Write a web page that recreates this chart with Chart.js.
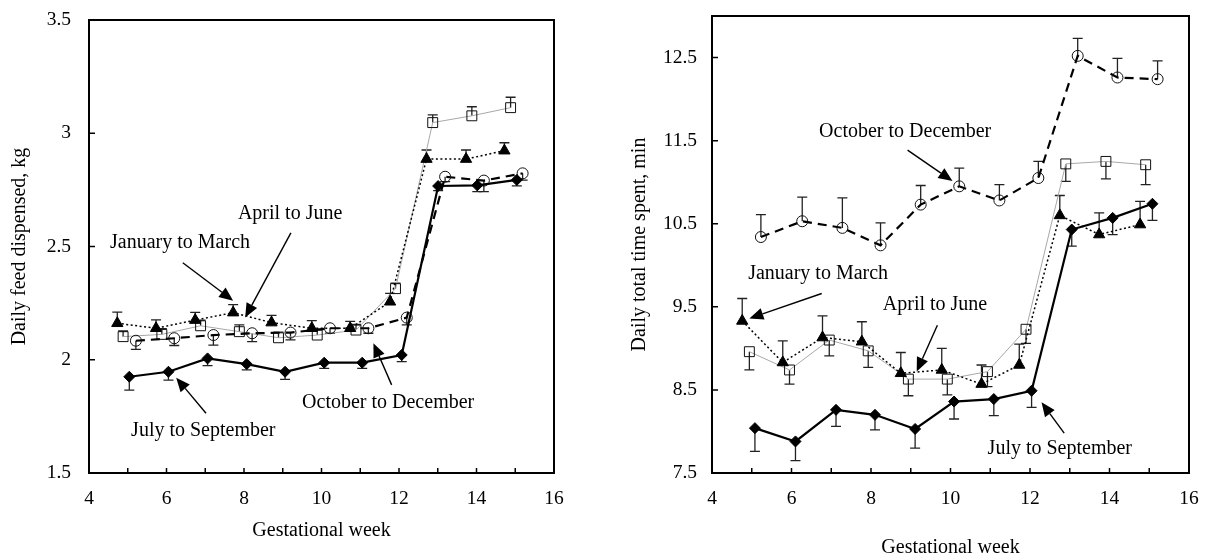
<!DOCTYPE html>
<html><head><meta charset="utf-8">
<script src="https://cdn.jsdelivr.net/npm/chart.js@4.4.1/dist/chart.umd.min.js"></script>
<style>
html,body{margin:0;padding:0;background:#fff;width:1206px;height:560px;overflow:hidden}
#w1{position:absolute;left:0;top:0;width:600px;height:560px}
#w2{position:absolute;left:600px;top:0;width:606px;height:560px}
</style></head><body>
<div id="w1"><canvas id="c1" width="600" height="560"></canvas></div>
<div id="w2"><canvas id="c2" width="606" height="560"></canvas></div>
<script>
// ---------- shared axis data ----------
const weekTicks  = [4,5,6,7,8,9,10,11,12,13,14,15,16];
const weekLabels = ['4','','6','','8','','10','','12','','14','','16'];

// ---------- left chart: daily feed dispensed (kg) ----------
const feedYTicks  = [1.5,2,2.5,3,3.5];
const feedYLabels = ['1.5','2','2.5','3','3.5'];

const feedJanMarX = [4.73,5.73,6.74,7.72,8.71,9.75,10.74,11.77,12.71,13.73,14.72];
const feedJanMarY = [2.161,2.139,2.175,2.208,2.164,2.139,2.139,2.256,2.886,2.886,2.923];
const feedJanMarE = [0.049,0.037,0.034,0.035,0.032,0.034,0.030,0.037,0.040,0.040,0.035];

const feedAprJunX = [4.88,5.88,6.88,7.88,8.89,9.89,10.89,11.91,12.87,13.88,14.88];
const feedAprJunY = [2.102,2.112,2.150,2.124,2.097,2.109,2.131,2.314,3.047,3.077,3.113];
const feedAprJunE = [0.025,0.025,0.025,0.030,0.025,0.025,0.025,0.024,0.034,0.040,0.046];

const feedOctDecX = [5.21,6.20,7.21,8.21,9.20,10.22,11.21,12.20,13.19,14.19,15.19];
const feedOctDecY = [2.084,2.095,2.109,2.117,2.120,2.139,2.139,2.186,2.808,2.791,2.823];
const feedOctDecE = [0.038,0.032,0.044,0.037,0.032,0.022,0.022,0.032,0.022,0.049,0.030];

const feedJulSepX = [5.04,6.05,7.06,8.07,9.06,10.07,11.05,12.07,13.01,14.02,15.04];
const feedJulSepY = [1.925,1.947,2.006,1.981,1.947,1.987,1.987,2.021,2.767,2.770,2.794];
const feedJulSepE = [0.059,0.037,0.032,0.026,0.034,0.025,0.025,0.029,0.020,0.028,0.026];

const feedNotes = [
  {text:'January to March',   tx:6.35,  ty:2.515, x1:6.42,  y1:2.428, x2:7.72,  y2:2.261},
  {text:'April to June',      tx:9.19,  ty:2.643, x1:9.21,  y1:2.560, x2:8.03,  y2:2.187},
  {text:'July to September',  tx:6.95,  ty:1.685, x1:7.02,  y1:1.764, x2:6.25,  y2:1.921},
  {text:'October to December',tx:11.72, ty:1.809, x1:11.81, y1:1.889, x2:11.34, y2:2.073}
];

// ---------- right chart: daily total time spent (min) ----------
const timeYTicks  = [7.5,8.5,9.5,10.5,11.5,12.5];
const timeYLabels = ['7.5','8.5','9.5','10.5','11.5','12.5'];

const timeOctDecX = [5.23,6.27,7.28,8.24,9.25,10.22,11.23,12.21,13.20,14.20,15.21];
const timeOctDecY = [10.34,10.53,10.45,10.24,10.73,10.95,10.78,11.05,12.52,12.26,12.24];
const timeOctDecE = [0.27,0.29,0.36,0.27,0.23,0.22,0.19,0.20,0.21,0.23,0.22];

const timeJanMarX = [4.76,5.78,6.78,7.77,8.75,9.78,10.78,11.73,12.75,13.74,14.77];
const timeJanMarY = [9.33,8.83,9.13,9.08,8.70,8.74,8.57,8.80,10.60,10.37,10.49];
const timeJanMarE = [0.27,0.26,0.26,0.24,0.25,0.26,0.23,0.25,0.24,0.26,0.28];

const timeAprJunX = [4.94,5.95,6.95,7.93,8.94,9.92,10.93,11.90,12.90,13.91,14.91];
const timeAprJunY = [8.96,8.74,9.10,8.97,8.63,8.63,8.72,9.23,11.22,11.25,11.21];
const timeAprJunE = [0.22,0.17,0.19,0.20,0.20,0.19,0.18,0.17,0.21,0.21,0.24];

const timeJulSepX = [5.08,6.10,7.12,8.10,9.11,10.09,11.09,12.04,13.05,14.08,15.08];
const timeJulSepY = [8.04,7.88,8.26,8.20,8.03,8.36,8.39,8.49,10.43,10.57,10.74];
const timeJulSepE = [0.28,0.23,0.20,0.18,0.23,0.21,0.20,0.20,0.20,0.20,0.20];

const timeNotes = [
  {text:'October to December',tx:8.86,  ty:11.61, x1:8.92,  y1:11.386, x2:10.05, y2:11.013},
  {text:'January to March',   tx:6.67,  ty:9.892, x1:6.76,  y1:9.66,   x2:4.94,  y2:9.36},
  {text:'April to June',      tx:9.61,  ty:9.519, x1:9.67,  y1:9.279,  x2:9.15,  y2:8.722},
  {text:'July to September',  tx:12.75, ty:7.788, x1:12.86, y1:7.98,   x2:12.29, y2:8.35}
];

// ---------- helpers ----------
const SERIF = '"Liberation Serif", "Times New Roman", serif';
Chart.defaults.font.family = SERIF;
Chart.defaults.color = '#000';

function pts(xs, ys){ return xs.map((x,i)=>({x:x, y:ys[i]})); }

function styleJanMar(xs,ys,es,dir){ return {label:'January to March', data:pts(xs,ys), errors:es, errDir:dir,
  borderColor:'#000', borderWidth:1.5, borderDash:[2,2.5], pointStyle:'triangle', pointRadius:6.5,
  pointBackgroundColor:'#000', pointBorderColor:'#000', pointBorderWidth:1, order:2}; }
function styleAprJun(xs,ys,es,dir){ return {label:'April to June', data:pts(xs,ys), errors:es, errDir:dir,
  borderColor:'#a8a8a8', borderWidth:1, pointStyle:'rect', pointRadius:7,
  pointBackgroundColor:'rgba(255,255,255,0)', pointBorderColor:'#111', pointBorderWidth:1, order:3}; }
function styleOctDec(xs,ys,es,dir){ return {label:'October to December', data:pts(xs,ys), errors:es, errDir:dir,
  borderColor:'#000', borderWidth:2.2, borderDash:[9,6], pointStyle:'circle', pointRadius:5.5,
  pointBackgroundColor:'rgba(255,255,255,0)', pointBorderColor:'#111', pointBorderWidth:1, order:1}; }
function styleJulSep(xs,ys,es,dir){ return {label:'July to September', data:pts(xs,ys), errors:es, errDir:dir,
  borderColor:'#000', borderWidth:2.2, pointStyle:'rectRot', pointRadius:5.5,
  pointBackgroundColor:'#000', pointBorderColor:'#000', pointBorderWidth:1, order:0}; }

const decorPlugin = {
  id:'decor',
  beforeDatasetsDraw(chart){
    const {ctx, scales:{x,y}} = chart;
    ctx.save();
    ctx.strokeStyle = '#222'; ctx.lineWidth = 1.3; ctx.setLineDash([]);
    chart.data.datasets.forEach(ds=>{
      ds.data.forEach((p,j)=>{
        const px = x.getPixelForValue(p.x);
        const py0 = y.getPixelForValue(p.y);
        const py1 = y.getPixelForValue(p.y + ds.errDir*ds.errors[j]);
        ctx.beginPath();
        ctx.moveTo(px,py0); ctx.lineTo(px,py1);
        ctx.moveTo(px-5,py1); ctx.lineTo(px+5,py1);
        ctx.stroke();
      });
    });
    ctx.restore();
  },
  afterDraw(chart){
    const {ctx, chartArea:a, scales:{x,y}} = chart;
    const notes = chart.options.plugins.decor.notes;
    ctx.save();
    ctx.setLineDash([]);
    // frame
    ctx.strokeStyle = '#000'; ctx.lineWidth = 2;
    ctx.strokeRect(a.left, a.top, a.right-a.left, a.bottom-a.top);
    // inward tick marks
    ctx.lineWidth = 1.5;
    ctx.beginPath();
    x.ticks.forEach(t=>{
      if (t.value<=x.min || t.value>=x.max) return;
      const px = x.getPixelForValue(t.value);
      ctx.moveTo(px,a.bottom); ctx.lineTo(px,a.bottom-5);
    });
    y.ticks.forEach(t=>{
      if (t.value<=y.min || t.value>=y.max) return;
      const py = y.getPixelForValue(t.value);
      ctx.moveTo(a.left,py); ctx.lineTo(a.left+6,py);
    });
    ctx.stroke();
    // annotations
    ctx.fillStyle = '#000';
    ctx.font = '20px ' + SERIF;
    ctx.textAlign = 'center'; ctx.textBaseline = 'middle';
    notes.forEach(n=>{
      ctx.fillText(n.text, x.getPixelForValue(n.tx), y.getPixelForValue(n.ty));
      const x1 = x.getPixelForValue(n.x1), y1 = y.getPixelForValue(n.y1);
      const x2 = x.getPixelForValue(n.x2), y2 = y.getPixelForValue(n.y2);
      const ang = Math.atan2(y2-y1, x2-x1);
      const L = 14, W = 6;
      const bx = x2 - L*Math.cos(ang), by = y2 - L*Math.sin(ang);
      ctx.strokeStyle = '#000'; ctx.lineWidth = 1.4;
      ctx.beginPath(); ctx.moveTo(x1,y1); ctx.lineTo(bx,by); ctx.stroke();
      ctx.beginPath();
      ctx.moveTo(x2,y2);
      ctx.lineTo(bx + W*Math.sin(ang), by - W*Math.cos(ang));
      ctx.lineTo(bx - W*Math.sin(ang), by + W*Math.cos(ang));
      ctx.closePath(); ctx.fill();
    });
    ctx.restore();
  }
};

function makeChart(id, datasets, cfg){
  return new Chart(document.getElementById(id), {
    type:'line',
    data:{datasets:datasets},
    options:{
      responsive:false, animation:false, devicePixelRatio:1,
      layout:{padding:cfg.padding},
      elements:{line:{tension:0, fill:false}},
      plugins:{legend:{display:false}, tooltip:{enabled:false}, decor:{notes:cfg.notes}},
      scales:{
        x:{type:'linear', min:4, max:16,
           afterFit:(s)=>{ s.height = cfg.xHeight; s.paddingLeft = 0; s.paddingRight = 0; },
           afterBuildTicks:(s)=>{ s.ticks = weekTicks.map(v=>({value:v})); },
           grid:{display:false, drawTicks:false},
           border:{display:false},
           ticks:{autoSkip:false, maxRotation:0, padding:14, font:{size:19.5},
                  callback:(v,i)=>weekLabels[i]},
           title:{display:true, text:'Gestational week', font:{size:20}, padding:{top:0,bottom:cfg.xTitlePad}}},
        y:{type:'linear', min:cfg.yMin, max:cfg.yMax,
           afterFit:(s)=>{ s.width = cfg.yWidth; s.paddingTop = 0; s.paddingBottom = 0; },
           afterBuildTicks:(s)=>{ s.ticks = cfg.yTicks.map(v=>({value:v})); },
           grid:{display:false, drawTicks:false},
           border:{display:false},
           ticks:{padding:cfg.yTickPad, font:{size:19.5}, callback:(v,i)=>cfg.yLabels[i]},
           title:{display:true, text:cfg.yTitle, font:{size:20}, padding:{top:cfg.yTitlePad,bottom:0}}}
      }
    },
    plugins:[decorPlugin]
  });
}

makeChart('c1', [
  styleJulSep(feedJulSepX, feedJulSepY, feedJulSepE, -1),
  styleOctDec(feedOctDecX, feedOctDecY, feedOctDecE, -1),
  styleJanMar(feedJanMarX, feedJanMarY, feedJanMarE, 1),
  styleAprJun(feedAprJunX, feedAprJunY, feedAprJunE, 1)
], {padding:{top:20,right:46,bottom:0,left:0}, xHeight:87, yWidth:89, yMin:1.5, yMax:3.5,
    yTicks:feedYTicks, yLabels:feedYLabels, yTickPad:18, yTitle:'Daily feed dispensed, kg', yTitlePad:8,
    xTitlePad:17, notes:feedNotes});

makeChart('c2', [
  styleJulSep(timeJulSepX, timeJulSepY, timeJulSepE, -1),
  styleOctDec(timeOctDecX, timeOctDecY, timeOctDecE, 1),
  styleJanMar(timeJanMarX, timeJanMarY, timeJanMarE, 1),
  styleAprJun(timeAprJunX, timeAprJunY, timeAprJunE, -1)
], {padding:{top:16,right:17,bottom:0,left:0}, xHeight:87, yWidth:112, yMin:7.5, yMax:13,
    yTicks:timeYTicks, yLabels:timeYLabels, yTickPad:15, yTitle:'Daily total time spent, min', yTitlePad:28,
    xTitlePad:0, notes:timeNotes});
</script>
</body></html>
